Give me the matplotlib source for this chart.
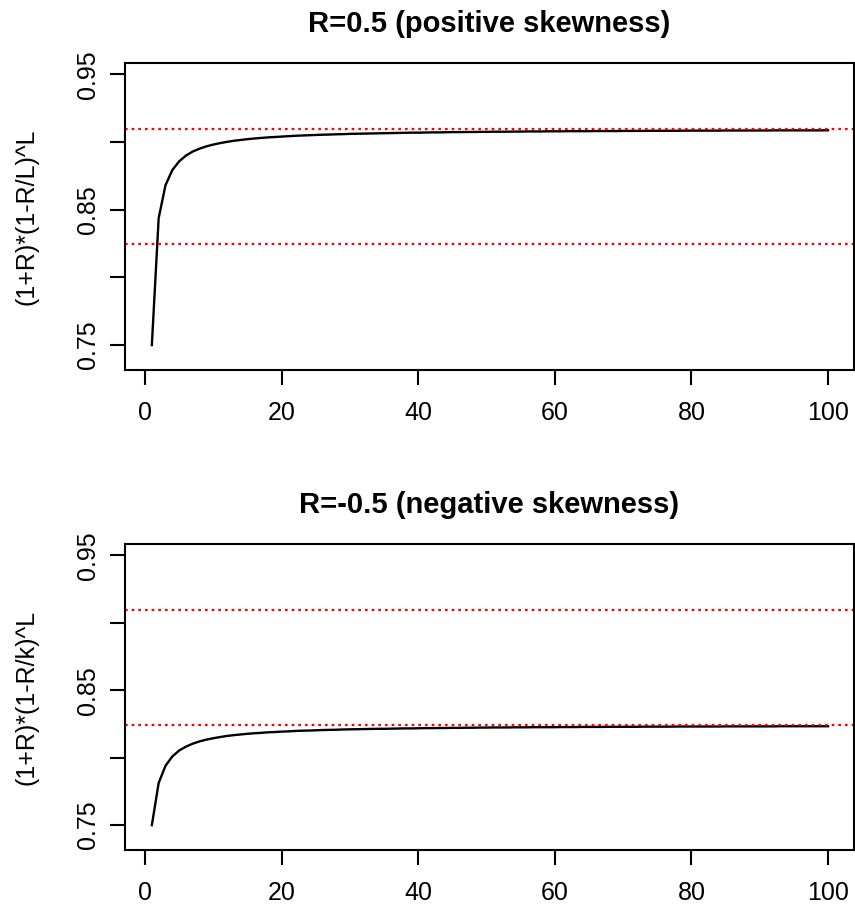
import matplotlib
matplotlib.use('Agg')
import matplotlib.pyplot as plt

plt.rcParams['font.family'] = 'Liberation Sans'

# L = 1..100
L = list(range(1, 101))

# R = 0.5 : (1+R)*(1-R/L)^L
pos_skew = [
    0.7500, 0.8438, 0.8681, 0.8793, 0.8857, 0.8900, 0.8930, 0.8951, 0.8968, 0.8981,
    0.8992, 0.9001, 0.9009, 0.9015, 0.9021, 0.9026, 0.9030, 0.9034, 0.9037, 0.9040,
    0.9043, 0.9046, 0.9048, 0.9050, 0.9052, 0.9054, 0.9055, 0.9057, 0.9058, 0.9060,
    0.9061, 0.9062, 0.9063, 0.9064, 0.9065, 0.9066, 0.9067, 0.9068, 0.9069, 0.9069,
    0.9070, 0.9071, 0.9071, 0.9072, 0.9073, 0.9073, 0.9074, 0.9074, 0.9075, 0.9075,
    0.9076, 0.9076, 0.9076, 0.9077, 0.9077, 0.9078, 0.9078, 0.9078, 0.9079, 0.9079,
    0.9079, 0.9080, 0.9080, 0.9080, 0.9080, 0.9081, 0.9081, 0.9081, 0.9081, 0.9082,
    0.9082, 0.9082, 0.9082, 0.9083, 0.9083, 0.9083, 0.9083, 0.9083, 0.9084, 0.9084,
    0.9084, 0.9084, 0.9084, 0.9084, 0.9085, 0.9085, 0.9085, 0.9085, 0.9085, 0.9085,
    0.9085, 0.9086, 0.9086, 0.9086, 0.9086, 0.9086, 0.9086, 0.9086, 0.9086, 0.9087,
]

# R = -0.5
neg_skew = [
    0.7500, 0.7813, 0.7940, 0.8009, 0.8053, 0.8082, 0.8104, 0.8121, 0.8134, 0.8144,
    0.8153, 0.8161, 0.8167, 0.8172, 0.8177, 0.8181, 0.8184, 0.8188, 0.8190, 0.8193,
    0.8195, 0.8198, 0.8200, 0.8201, 0.8203, 0.8205, 0.8206, 0.8207, 0.8209, 0.8210,
    0.8211, 0.8212, 0.8213, 0.8214, 0.8214, 0.8215, 0.8216, 0.8217, 0.8217, 0.8218,
    0.8219, 0.8219, 0.8220, 0.8220, 0.8221, 0.8221, 0.8222, 0.8222, 0.8223, 0.8223,
    0.8224, 0.8224, 0.8224, 0.8225, 0.8225, 0.8225, 0.8226, 0.8226, 0.8226, 0.8226,
    0.8227, 0.8227, 0.8227, 0.8228, 0.8228, 0.8228, 0.8228, 0.8229, 0.8229, 0.8229,
    0.8229, 0.8229, 0.8230, 0.8230, 0.8230, 0.8230, 0.8230, 0.8231, 0.8231, 0.8231,
    0.8231, 0.8231, 0.8231, 0.8231, 0.8232, 0.8232, 0.8232, 0.8232, 0.8232, 0.8232,
    0.8232, 0.8232, 0.8233, 0.8233, 0.8233, 0.8233, 0.8233, 0.8233, 0.8233, 0.8233,
]

# reference levels (limits for L -> infinity)
ref_lines = [0.9098, 0.8244]

titles = ['R=0.5 (positive skewness)', 'R=-0.5 (negative skewness)']
ylabels = ['(1+R)*(1-R/L)^L', '(1+R)*(1-R/k)^L']
series = [pos_skew, neg_skew]
xticks = [0, 20, 40, 60, 80, 100]
yticks = [0.75, 0.80, 0.85, 0.90, 0.95]
ytick_labels = ['0.75', '', '0.85', '', '0.95']

fig = plt.figure(figsize=(8.55, 9.11), dpi=100)
ax_pos = [[0.1462, 0.5939, 0.8526, 0.3370],
          [0.1462, 0.0670, 0.8526, 0.3359]]

for i in range(2):
    ax = fig.add_axes(ax_pos[i])
    ax.plot(L, series[i], color='black', linewidth=1.7)
    for y in ref_lines:
        ax.axhline(y, color='red', linestyle=(0, (1.2, 1.8)), linewidth=1.6)
    ax.set_xlim(-2.93, 103.8)
    ax.set_ylim(0.7316, 0.9584)
    ax.set_xticks(xticks)
    ax.set_yticks(yticks)
    ax.set_yticklabels(ytick_labels, rotation=90, va='center')
    ax.tick_params(axis='both', length=11, width=1.5, labelsize=18, pad=7)
    ax.tick_params(axis='x', pad=11)
    for s in ax.spines.values():
        s.set_linewidth(1.5)
    ax.set_title(titles[i], fontsize=21, fontweight='bold', pad=22)
    ax.set_ylabel(ylabels[i], fontsize=18)
    ax.yaxis.set_label_coords(-0.119, 0.5)

plt.savefig('out.png', dpi=100)
